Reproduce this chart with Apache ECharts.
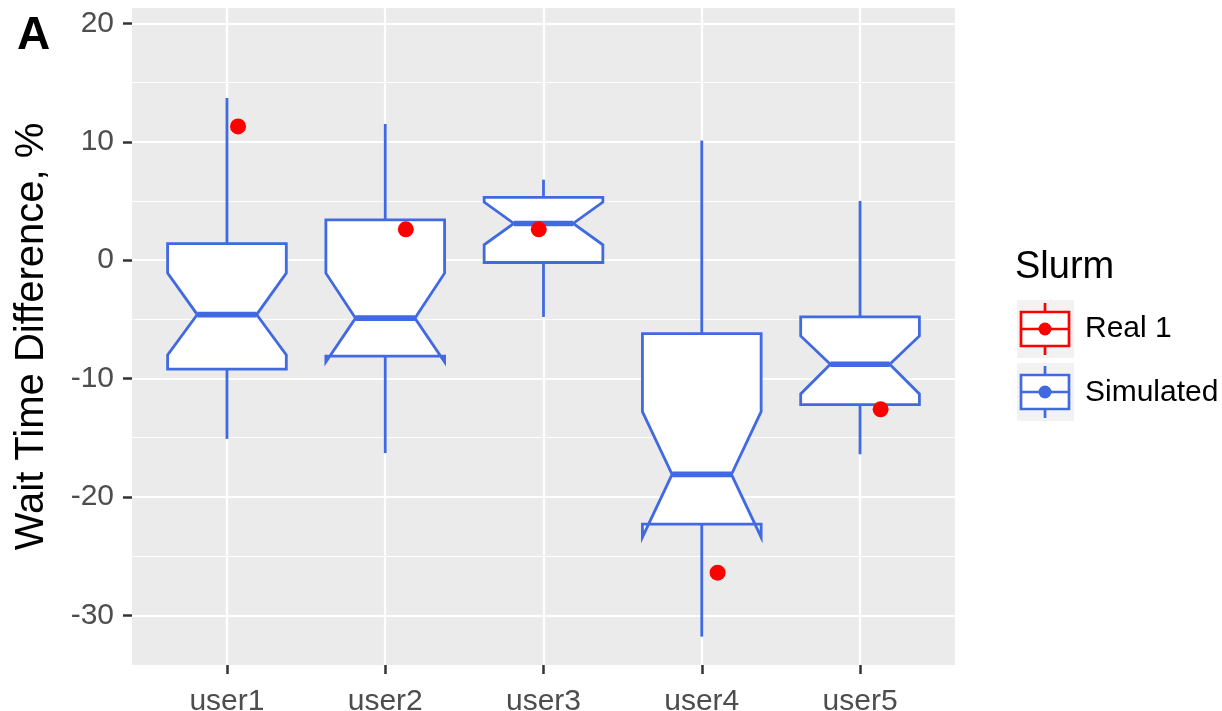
<!DOCTYPE html>
<html><head><meta charset="utf-8">
<script src="https://cdn.jsdelivr.net/npm/echarts@6/dist/echarts.min.js"></script>
<style>html,body{margin:0;padding:0;background:#fff}#c{width:1222px;height:711px}</style>
</head><body><div id="c"></div>
<script>
const categories = ['user1', 'user2', 'user3', 'user4', 'user5'];
const whiskerLow = [-15.1, -16.3, -4.8, -31.8, -16.4];
const q1 = [-9.2, -8.1, -0.2, -22.3, -12.2];
const notchLow = [-8.0, -8.6, 1.3, -23.4, -11.3];
const median = [-4.6, -4.9, 3.1, -18.1, -8.8];
const notchHigh = [-1.1, -1.1, 4.9, -12.8, -6.4];
const q3 = [1.4, 3.4, 5.3, -6.2, -4.8];
const whiskerHigh = [13.7, 11.5, 6.8, 10.1, 5.0];
const realValues = [11.3, 2.6, 2.6, -26.4, -12.6];
const realJitter = [0.07, 0.13, -0.03, 0.10, 0.13];
const yTicks = [-30, -20, -10, 0, 10, 20];
const yMinorTicks = [-25, -15, -5, 5, 15];
const xPositions = [1, 2, 3, 4, 5];

const FONT = 'Liberation Sans';
const BLUE = '#4169E1';
const RED = '#FF0000';

const boxData = categories.map((c, i) => [xPositions[i], whiskerLow[i], q1[i], notchLow[i], median[i], notchHigh[i], q3[i], whiskerHigh[i]]);
const realData = categories.map((c, i) => [xPositions[i] + realJitter[i], realValues[i]]);

const chart = echarts.init(document.getElementById('c'), null, {renderer: 'canvas'});

function legendKey(y0, color) {
  const cx = 1045;
  return [
    {type: 'rect', shape: {x: 1017, y: y0, width: 57, height: 58}, style: {fill: '#F2F2F2'}},
    {type: 'line', shape: {x1: cx, y1: y0 + 3, x2: cx, y2: y0 + 12}, style: {stroke: color, lineWidth: 2.7}},
    {type: 'line', shape: {x1: cx, y1: y0 + 46, x2: cx, y2: y0 + 55}, style: {stroke: color, lineWidth: 2.7}},
    {type: 'rect', shape: {x: 1021, y: y0 + 12, width: 48, height: 34}, style: {fill: '#fff', stroke: color, lineWidth: 2.7}},
    {type: 'line', shape: {x1: 1021, y1: y0 + 29, x2: 1069, y2: y0 + 29}, style: {stroke: color, lineWidth: 2.7}},
    {type: 'circle', shape: {cx: cx, cy: y0 + 29, r: 6.5}, style: {fill: color}}
  ];
}

const option = {
  animation: false,
  title: {text: 'A', left: 12, top: 8, textStyle: {fontFamily: FONT, fontWeight: 'bold', fontSize: 46, color: '#000'}},
  grid: {left: 132, right: 267, top: 8, bottom: 46, show: true, backgroundColor: '#EBEBEB', borderWidth: 0, containLabel: false, outerBoundsMode: 'none'},
  xAxis: {
    type: 'value', min: 0.4, max: 5.6,
    axisLine: {show: false, onZero: false},
    axisTick: {show: true, customValues: xPositions, length: 9, lineStyle: {color: '#333', width: 2.5}},
    axisLabel: {customValues: xPositions, formatter: v => categories[Math.round(v) - 1] || '', color: '#4D4D4D', fontSize: 30, fontFamily: FONT, margin: 22},
    splitLine: {show: false}
  },
  yAxis: {
    type: 'value', min: -34.2, max: 21.3,
    axisLine: {show: false, onZero: false},
    axisTick: {show: true, customValues: yTicks, length: 9, lineStyle: {color: '#333', width: 2.5}},
    axisLabel: {customValues: yTicks, color: '#4D4D4D', fontSize: 30, fontFamily: FONT, margin: 18},
    splitLine: {show: false},
    name: 'Wait Time Difference, %', nameLocation: 'middle', nameGap: 80, nameRotate: 90,
    nameTextStyle: {fontSize: 40, color: '#000', fontFamily: FONT}
  },
  series: [
    {
      type: 'line', data: [], silent: true, z: 1,
      markLine: {
        z: 1, silent: true, symbol: ['none', 'none'], label: {show: false}, animation: false,
        emphasis: {disabled: true},
        data: [
          ...yTicks.map(v => ({yAxis: v, lineStyle: {color: '#fff', width: 2.2, type: 'solid'}})),
          ...yMinorTicks.map(v => ({yAxis: v, lineStyle: {color: '#fff', width: 1.1, type: 'solid'}})),
          ...xPositions.map(v => ({xAxis: v, lineStyle: {color: '#fff', width: 2.2, type: 'solid'}}))
        ]
      }
    },
    {
      name: 'Simulated', type: 'custom', z: 10, data: boxData,
      renderItem: function (params, api) {
        const xv = api.value(0);
        const bw = api.size([1, 0])[0] * 0.75;
        const cx = api.coord([xv, 0])[0];
        const y = v => api.coord([xv, v])[1];
        const wl = api.value(1), lo = api.value(2), nl = api.value(3), md = api.value(4), nh = api.value(5), hi = api.value(6), wh = api.value(7);
        const L = cx - bw / 2, R = cx + bw / 2, l = cx - bw / 4, r = cx + bw / 4;
        const pts = [[L, y(hi)], [R, y(hi)], [R, y(nh)], [r, y(md)], [R, y(nl)], [R, y(lo)], [L, y(lo)], [L, y(nl)], [l, y(md)], [L, y(nh)]];
        const ls = {stroke: BLUE, lineWidth: 2.8};
        return {
          type: 'group', children: [
            {type: 'line', shape: {x1: cx, y1: y(wh), x2: cx, y2: y(hi)}, style: ls},
            {type: 'line', shape: {x1: cx, y1: y(lo), x2: cx, y2: y(wl)}, style: ls},
            {type: 'polygon', shape: {points: pts}, style: {fill: '#fff', stroke: BLUE, lineWidth: 2.8, lineJoin: 'miter'}},
            {type: 'line', shape: {x1: l, y1: y(md), x2: r, y2: y(md)}, style: {stroke: BLUE, lineWidth: 5.6}}
          ]
        };
      }
    },
    {
      name: 'Real 1', type: 'scatter', z: 12, data: realData,
      symbol: 'circle', symbolSize: 16, itemStyle: {color: RED, opacity: 1}, silent: true
    }
  ],
  graphic: [
    {type: 'text', x: 1015, y: 268, style: {text: 'Slurm', font: '38px "Liberation Sans"', fill: '#000', textVerticalAlign: 'middle'}},
    ...legendKey(300, RED),
    ...legendKey(363, BLUE),
    {type: 'text', x: 1085, y: 329, style: {text: 'Real 1', font: '30px "Liberation Sans"', fill: '#000', textVerticalAlign: 'middle'}},
    {type: 'text', x: 1085, y: 393, style: {text: 'Simulated', font: '30px "Liberation Sans"', fill: '#000', textVerticalAlign: 'middle'}}
  ]
};
chart.setOption(option);
</script>
</body></html>
